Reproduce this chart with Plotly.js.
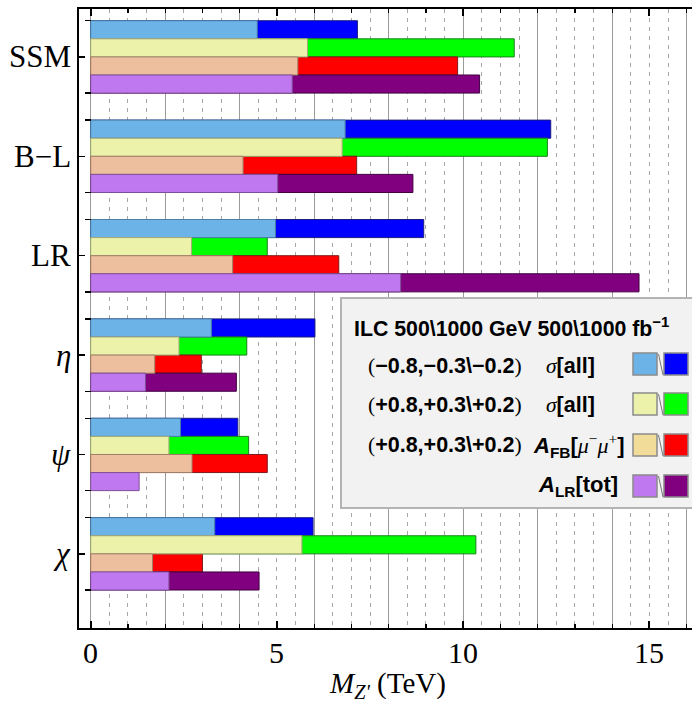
<!DOCTYPE html>
<html>
<head>
<meta charset="utf-8">
<script src="https://cdn.plot.ly/plotly-3.0.1.min.js"></script>
<style>html,body{margin:0;padding:0;background:#fff;}#chart{width:692px;height:713px;}</style>
</head>
<body>
<div id="chart"></div>
<script>
// ---- data (TeV) ----
const models = ['SSM', 'B−L', 'LR', 'η', 'ψ', 'χ'];
const modelLabels = ['SSM', 'B−L', 'LR', '<i>η</i>', '<i>ψ</i>', '<i>χ</i>'];
const sigmaNeg500  = [4.47, 6.83, 4.96, 3.24, 2.41, 3.33];
const sigmaNeg1000 = [7.16, 12.35, 8.94, 6.02, 3.95, 5.97];
const sigmaPos500  = [5.82, 6.75, 2.71, 2.37, 2.10, 5.67];
const sigmaPos1000 = [11.37, 12.26, 4.74, 4.19, 4.24, 10.34];
const afb500       = [5.56, 4.09, 3.81, 1.72, 2.72, 1.66];
const afb1000      = [9.85, 7.14, 6.66, 2.97, 4.74, 3.00];
const alr500       = [5.41, 5.02, 8.32, 1.47, 1.30, 2.10];
const alr1000      = [10.44, 8.65, 14.72, 3.91, null, 4.52];
const xTickVals = [0, 5, 10, 15];

// ---- styling ----
const W = 692, H = 713;
const M = {l: 79, r: 0, t: 9, b: 85};
const PW = W - M.l - M.r, PH = H - M.t - M.b;
const px = v => (v - M.l) / PW;
const py = v => (H - M.b - v) / PH;
const SERIF = 'Liberation Serif';
const SANS = 'Liberation Sans';

const barW = 0.182;
const series = [
  {lo: sigmaNeg500, hi: sigmaNeg1000, off: -2 * barW, cLo: '#6cb4e8', cHi: '#0000ff', lnLo: '#4a7ea6', lnHi: '#1a1a80', legLo: '#6cb4e8'},
  {lo: sigmaPos500, hi: sigmaPos1000, off: -barW,     cLo: '#edf2aa', cHi: '#00ff00', lnLo: '#a6a878', lnHi: '#1a801a', legLo: '#edf2aa'},
  {lo: afb500,      hi: afb1000,      off: 0,         cLo: '#edbf9f', cHi: '#ff0000', lnLo: '#a08068', lnHi: '#801a1a', legLo: '#f2dc9a'},
  {lo: alr500,      hi: alr1000,      off: barW,      cLo: '#c078f0', cHi: '#800080', lnLo: '#805098', lnHi: '#400040', legLo: '#c078f0'}
];

const traces = [];
series.forEach(s => {
  traces.push({type: 'bar', orientation: 'h', y: models, x: s.hi, width: barW, offset: s.off,
    xaxis: 'x', yaxis: 'y', marker: {color: s.cHi, line: {color: s.lnHi, width: 1}}, hoverinfo: 'x+y', showlegend: false});
});
series.forEach(s => {
  traces.push({type: 'bar', orientation: 'h', y: models, x: s.lo, width: barW, offset: s.off,
    xaxis: 'x2', yaxis: 'y2', marker: {color: s.cLo, line: {color: s.lnLo, width: 1}}, hoverinfo: 'x+y', showlegend: false});
});

const xr = [(M.l - 90.7) / 37.25, (W - 90.7) / 37.25];
// group edge ticks (axis decoration): top and bottom of each group of 4 bars
const edgeTicks = [];
models.forEach((m, i) => { edgeTicks.push(i - 2 * barW, i + 2 * barW); });

// legend (drawn as shapes + annotations in paper coordinates)
const shapes = [{type: 'rect', xref: 'paper', yref: 'paper', x0: px(341), x1: px(720), y0: py(508), y1: py(298),
  fillcolor: '#f2f2f2', line: {color: '#b4b4b4', width: 2}, layer: 'above'}];
const rowTops = [353, 393, 434, 475];
series.forEach((s, i) => {
  const t = rowTops[i], b = t + 22;
  shapes.push({type: 'rect', xref: 'paper', yref: 'paper', x0: px(633), x1: px(657), y0: py(b), y1: py(t),
    fillcolor: s.legLo, line: {color: '#8a8a8a', width: 1.5}, layer: 'above'});
  shapes.push({type: 'rect', xref: 'paper', yref: 'paper', x0: px(664), x1: px(688), y0: py(b), y1: py(t),
    fillcolor: s.cHi, line: {color: '#8a8a8a', width: 1.5}, layer: 'above'});
  shapes.push({type: 'line', xref: 'paper', yref: 'paper', x0: px(658.5), x1: px(663), y0: py(t + 1), y1: py(b),
    line: {color: '#777', width: 1}, layer: 'above'});
});

const sp = (fam, t) => '<span style="font-family:' + fam + '">' + t + '</span>';
const tuple = t => sp(SERIF, '(') + '<b>' + t + '</b>' + sp(SERIF, ')');
const legendTexts = [
  {x: 352, y: 328, text: '<b>ILC 500\\1000 GeV 500\\1000 fb<sup>−1</sup></b>', size: 21.3},
  {x: 366, y: 366, text: tuple('−0.8,−0.3\\−0.2'), size: 21.5},
  {x: 544, y: 366, text: sp(SERIF, '<i>σ</i>') + '<b>[all]</b>', size: 21.5},
  {x: 366, y: 405, text: tuple('+0.8,+0.3\\+0.2'), size: 21.5},
  {x: 544, y: 405, text: sp(SERIF, '<i>σ</i>') + '<b>[all]</b>', size: 21.5},
  {x: 366, y: 445, text: tuple('+0.8,+0.3\\+0.2'), size: 21.5},
  {x: 531, y: 445, text: '<b><i>A</i><sub>FB</sub>[</b>' + sp(SERIF, '<i>μ</i><sup>−</sup><i>μ</i><sup>+</sup>') + '<b>]</b>', size: 22},
  {x: 536, y: 486, text: '<b><i>A</i><sub>LR</sub>[tot]</b>', size: 22}
];
const annotations = legendTexts.map(a => ({xref: 'paper', yref: 'paper', x: px(a.x), y: py(a.y),
  xanchor: 'left', yanchor: 'middle', showarrow: false, text: a.text,
  font: {family: SANS, size: a.size, color: '#000'}}));

// axis tick labels and title as text annotations (serif, forced through a span)
xTickVals.forEach(v => annotations.push({xref: 'x', yref: 'paper', x: v, y: py(652), xanchor: 'center', yanchor: 'middle',
  showarrow: false, text: sp(SERIF, String(v)), font: {family: SERIF, size: 30, color: '#000'}}));
models.forEach((m, i) => annotations.push({xref: 'paper', yref: 'y', x: px(73), y: m, xanchor: 'right', yanchor: 'middle',
  showarrow: false, text: sp(SERIF, modelLabels[i]), font: {family: SERIF, size: 31, color: '#000'}}));
annotations.push({xref: 'paper', yref: 'paper', x: px(387), y: py(685), xanchor: 'center', yanchor: 'middle',
  showarrow: false, text: sp(SERIF, '<i>M</i><sub><i>Z\'</i></sub> (TeV)'), font: {family: SERIF, size: 29, color: '#000'}});

const layout = {
  width: W, height: H, margin: M, paper_bgcolor: '#fff', plot_bgcolor: '#fff',
  barmode: 'overlay', bargap: 0, showlegend: false,
  font: {family: SERIF, color: '#000'},
  xaxis: {range: xr, fixedrange: true, showgrid: false, zeroline: false, showticklabels: false,
    tickmode: 'array', tickvals: xTickVals,
    ticks: 'inside', ticklen: 7, tickwidth: 2, tickcolor: '#000',
    minor: {dtick: 1, tick0: 0, ticks: 'inside', ticklen: 4, tickwidth: 1.3, tickcolor: '#000', showgrid: false},
    showline: true, linecolor: '#000', linewidth: 2, mirror: 'allticks'},
  xaxis2: {range: xr, overlaying: 'x', side: 'top', fixedrange: true, showticklabels: false, ticks: '',
    showgrid: true, dtick: 2, tick0: 0, gridcolor: '#9a9a9a', gridwidth: 1, zeroline: false, showline: false,
    minor: {dtick: 0.5, tick0: 0, showgrid: true, gridcolor: '#a6a6a6', gridwidth: 1, griddash: '4px,5px', ticks: ''}},
  yaxis: {type: 'category', categoryorder: 'array', categoryarray: models, range: [5.746, -0.482], fixedrange: true,
    tickmode: 'array', tickvals: models, showticklabels: false, ticks: 'inside', ticklen: 6, tickwidth: 1.5, tickcolor: '#000',
    showgrid: false, zeroline: false, showline: true, linecolor: '#000', linewidth: 2},
  yaxis2: {type: 'category', categoryorder: 'array', categoryarray: models, matches: 'y', overlaying: 'y',
    anchor: 'free', position: px(91), side: 'left', fixedrange: true,
    tickmode: 'array', tickvals: edgeTicks, ticks: 'outside', ticklen: 6, tickwidth: 1.3, tickcolor: '#000',
    showticklabels: false, showgrid: false, zeroline: false, showline: false},
  shapes: shapes, annotations: annotations
};

Plotly.newPlot('chart', traces, layout, {displayModeBar: false, staticPlot: true});
</script>
</body>
</html>
